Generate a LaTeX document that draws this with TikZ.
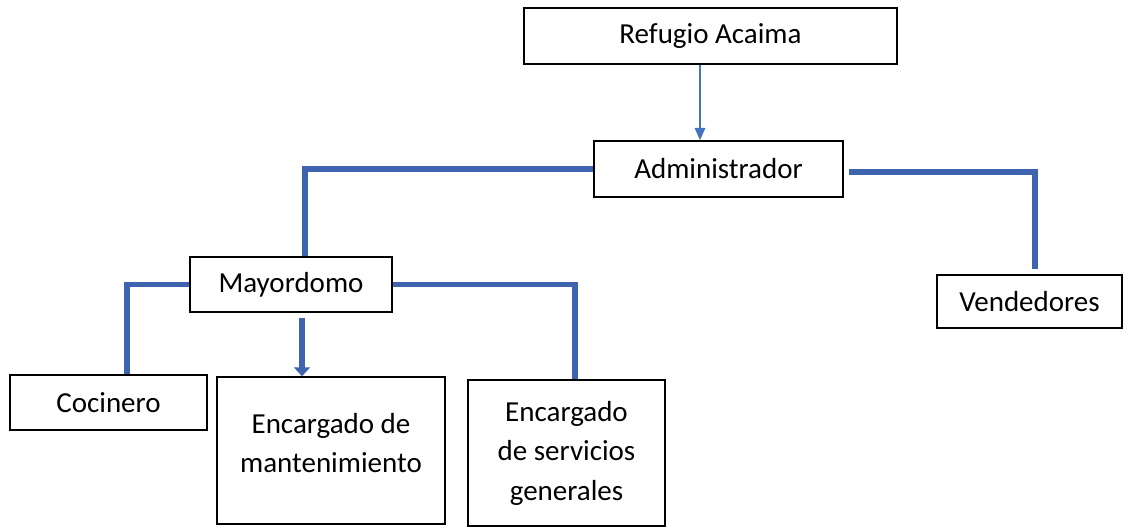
\documentclass[tikz,border=0pt]{standalone}
\usepackage{fontspec}
\setmainfont{Carlito}
\usetikzlibrary{arrows.meta,calc}
\definecolor{linkblue}{RGB}{62,100,175}
\definecolor{tipblue}{RGB}{68,114,196}
\begin{document}
\begin{tikzpicture}[
    box/.style={draw=black,line width=0.9pt,align=center,inner sep=0pt,
      font=\fontsize{16.5}{22.5}\selectfont},
    elbow/.style={draw=linkblue,line width=3.2pt},
    thinlink/.style={draw=tipblue,line width=0.8pt,-{Triangle[width=6pt,length=7pt]}}]
    \useasboundingbox (0,0) rectangle (22.56,10.6);
    % top levels
    \node[box,minimum width=7.46cm,minimum height=1.12cm] (refugio) at (14.21,9.88) {Refugio Acaima};
    \node[box,minimum width=4.98cm,minimum height=1.12cm] (admin) at (14.37,7.22) {Administrador};
    \node[box,minimum width=4.04cm,minimum height=1.10cm] (mayordomo) at (5.82,4.91) {Mayordomo};
    \node[box,minimum width=3.70cm,minimum height=1.06cm] (vendedores) at (20.59,4.57) {Vendedores};
    % bottom level
    \node[box,minimum width=3.94cm,minimum height=1.10cm] (cocinero) at (2.17,2.55) {Cocinero};
    \node[box,minimum width=4.56cm,minimum height=2.94cm,text depth=0.3cm] (mant) at (6.62,1.59) {Encargado de\\mantenimiento};
    \node[box,minimum width=3.94cm,minimum height=2.92cm] (serv) at (11.33,1.54) {Encargado\\de servicios\\generales};
    % connectors
    \coordinate (xa) at (14.0,0);
    \coordinate (md) at ($(mayordomo.south)+(0.22,-0.1)$);
    \draw[thinlink] (refugio.south -| xa) -- (admin.north -| xa);
    \draw[elbow] (admin.west) -| ($(mayordomo.north)+(0.28,0)$);
    \draw[elbow] ($(admin.east)+(0.1,-0.06)$) -| ($(vendedores.north)+(0.11,0.1)$);
    \draw[elbow] (mayordomo.west) -| ($(cocinero.north)+(0.37,0)$);
    \draw[elbow,-{Triangle[width=9pt,length=5pt]}] (md) -- (md |- mant.north);
    \draw[elbow] (mayordomo.east) -| ($(serv.north)+(0.17,0)$);
  \end{tikzpicture}
\end{document}
